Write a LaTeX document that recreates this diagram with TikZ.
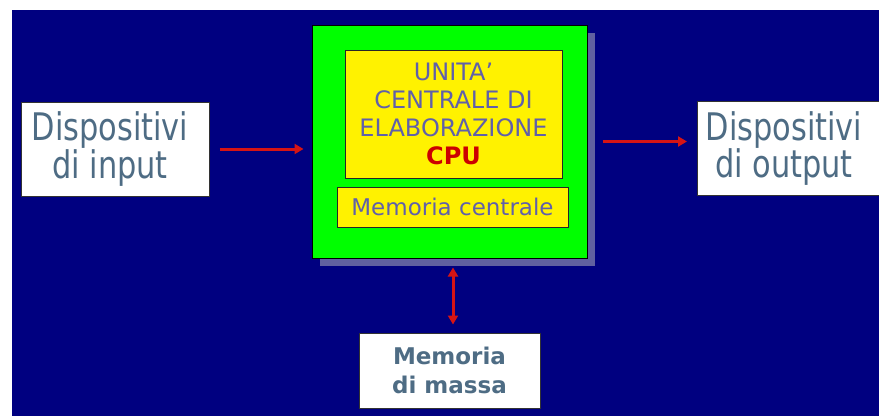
\documentclass[tikz,border=0pt]{standalone}
\usepackage{fontspec}
\setmainfont{DejaVu Sans}
\newfontfamily\devfont[FakeStretch=0.8]{DejaVu Sans}
\usepackage{tikz}
\usetikzlibrary{arrows.meta,positioning,calc,shadows}
\definecolor{navy}{RGB}{0,0,128}
\definecolor{shadowblue}{RGB}{96,96,160}
\definecolor{slatetext}{RGB}{78,108,132}
\definecolor{cputext}{RGB}{96,96,170}
\definecolor{cpured}{RGB}{204,0,0}
\definecolor{arrowred}{RGB}{214,20,20}

\begin{document}
\begin{tikzpicture}[x=1pt,y=-1pt,
  devbox/.style={draw=black!80,line width=1pt,fill=white,inner sep=0pt,minimum width=188pt,minimum height=94pt},
  devtext/.style={text=slatetext,align=center,font=\devfont\fontsize{38}{35}\selectfont},
  yellowbox/.style={draw=black!85,line width=1pt,fill=yellow,inner sep=0pt,align=center,text=cputext},
  flow/.style={draw=arrowred,line width=3pt,-{Triangle[length=9pt,width=10pt]}},
  flowboth/.style={draw=arrowred,line width=3pt,{Triangle[length=9pt,width=10pt]}-{Triangle[length=9pt,width=10pt]}}]
\useasboundingbox (0,0) rectangle (879,416);
\clip (0,0) rectangle (879,416);
\fill[white] (0,0) rectangle (879,416);
\fill[navy] (12,10) rectangle (879,416);
% main unit with shadow
\node[draw=black,line width=1pt,fill=green,minimum width=275pt,minimum height=233pt,inner sep=0pt,
  drop shadow={shadow xshift=8pt,shadow yshift=-8pt,fill=shadowblue,opacity=1}] (sys) at (449.5,141.5) {};
\node[yellowbox,minimum width=217pt,minimum height=128pt,font=\fontsize{24}{28}\selectfont] (cpu) at (453.5,114)
  {UNITA'\\CENTRALE DI\\ELABORAZIONE\\\textcolor{cpured}{\textbf{CPU}}};
\node[yellowbox,minimum width=231pt,minimum height=40pt,font=\fontsize{23}{28}\selectfont] (memc) at (452.5,207) {Memoria centrale};
% devices
\node[devbox] (inp) at (115,149) {};
\node[devtext,xshift=-5pt] (inptext) at (inp.center) {Dispositivi\\di input};
\node[devbox,anchor=west] (outdev) at (697,148.5) {};
\node[devtext] (outtext) at (784,148.5) {Dispositivi\\di output};
\node[devbox,minimum width=181pt,minimum height=75pt,text=slatetext,align=center,
  font=\bfseries\fontsize{23}{29}\selectfont] (mass) at (449.5,370.5) {Memoria\\di massa};
% connectors
\draw[flow,shorten <=10pt,shorten >=8pt] (inp.east) -- (inp.east -| sys.west);
\draw[flow,shorten <=15pt,shorten >=10pt] (sys.east) -- (sys.east -| outdev.west);
\draw[flowboth,shorten <=9pt,shorten >=8pt] ([xshift=3.5pt]sys.south) -- ([xshift=3.5pt]mass.north);
\end{tikzpicture}
\end{document}
